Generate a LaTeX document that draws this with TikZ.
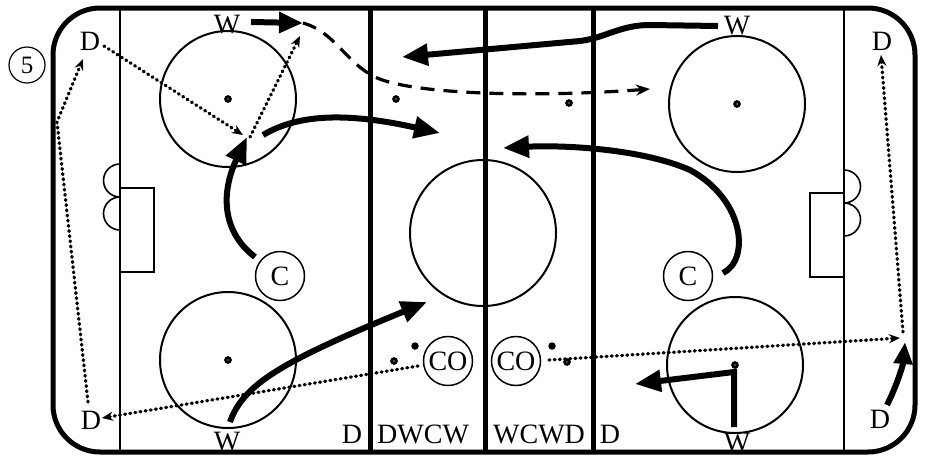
\documentclass[tikz,border=0pt]{standalone}
\usepackage{fontspec}
\setmainfont{Liberation Serif}
\usetikzlibrary{arrows.meta}
\begin{document}
\begin{tikzpicture}[x=1pt,y=-1pt,
  lbl/.style={font=\fontsize{28}{30}\selectfont, inner sep=0pt, anchor=base},
  plr/.style={draw, circle, line width=1.5pt, minimum size=49pt, inner sep=0pt, font=\fontsize{28}{30}\selectfont},
  rink/.style={line width=5pt},
  thinline/.style={line width=1.8pt},
  blueline/.style={line width=5pt},
  fo/.style={line width=2pt},
  ringdot/.style={draw, circle, fill=white, line width=3pt, minimum size=4.5pt, inner sep=0pt},
  fdot/.style={fill, circle, minimum size=7.5pt, inner sep=0pt},
  skate/.style={line width=6pt, -{Triangle[length=26pt,width=21pt]}},
  dotpath/.style={line width=3.3pt, line cap=round, dash pattern=on 0.9pt off 4.3pt, -{Stealth[length=11pt,width=9pt]}},
  dashpath/.style={line width=3.2pt, dash pattern=on 14pt off 9pt, -{Stealth[length=14pt,width=11pt]}}
]
\useasboundingbox (0,0) rectangle (926,459);
% rink
\draw[rink, rounded corners=47pt] (53,8) rectangle (915,452);
\draw[thinline] (120,8) -- (120,452);
\draw[thinline] (844,8) -- (844,452);
\draw[blueline] (370,8) -- (370,452);
\draw[blueline] (485,8) -- (485,452);
\draw[blueline] (593,8) -- (593,452);
% faceoff circles
\draw[fo] (228,99) circle (68);
\draw[fo] (228,360) circle (68);
\draw[fo] (483,233) circle (73);
\draw[fo] (737,104) circle (68);
\draw[fo] (735,365) circle (68);
% goal creases and nets
\draw[line width=1.2pt] (120,188) rectangle (154,272);
\draw[line width=1.6pt] (120,197) arc[start angle=90, end angle=270, radius=16.5];
\draw[line width=1.6pt] (120,230) arc[start angle=90, end angle=270, radius=16.5];
\draw[line width=1.2pt] (810,193) rectangle (844,277);
\draw[line width=1.6pt] (844,203) arc[start angle=90, end angle=-90, radius=16.5];
\draw[line width=1.6pt] (844,236) arc[start angle=90, end angle=-90, radius=16.5];
% dots
\node[ringdot] (d1) at (228,99) {};
\node[ringdot] (d2) at (228,360) {};
\node[ringdot] (d3) at (737,104) {};
\node[ringdot] (d4) at (735,365) {};
\node[ringdot] (d5) at (396,99) {};
\node[ringdot] (d6) at (569,103) {};
\node[ringdot] (d7) at (394,361) {};
\node[ringdot] (d8) at (567,362) {};
\node[fdot] (d9) at (415,346) {};
\node[fdot] (d10) at (552,346) {};
% labels
\node[draw, circle, line width=1.2pt, minimum size=36pt, inner sep=0pt, font=\fontsize{25}{27}\selectfont] (five) at (27,65) {5};
\node[lbl] (Wtl) at (227,33) {W};
\node[lbl] (Dtl) at (90,50) {D};
\node[lbl] (Wtr) at (737,34) {W};
\node[lbl] (Dtr) at (882,50) {D};
\node[lbl] (Dbl) at (91,429) {D};
\node[lbl] (Wbl) at (227,450) {W};
\node[lbl] (Db1) at (352,443) {D};
\node[lbl, anchor=base west] (grp1) at (377,443) {DWCW};
\node[lbl, anchor=base west] (grp2) at (493,443) {WCWD};
\node[lbl] (Db2) at (610,443) {D};
\node[lbl] (Wbr) at (737,451) {W};
\node[lbl] (Dbr) at (880,428) {D};
\node[plr] (Cl) at (280,276) {C};
\node[plr] (Cr) at (688,276) {C};
\node[plr] (COl) at (448,361) {CO};
\node[plr] (COr) at (516,361) {CO};
% coordinates for paths
\coordinate (p1a) at (88,402);
\coordinate (p1b) at (57,122);
\coordinate (p1c) at (83,59);
\coordinate (p2a) at (104,46);
\coordinate (p2b) at (243,135);
\coordinate (p3a) at (250,137);
\coordinate (p3b) at (300,36);
\coordinate (p4a) at (255,257);
\coordinate (p4b) at (247,137);
\coordinate (p5a) at (263,135);
\coordinate (p5b) at (440,133);
\coordinate (p6a) at (251,22);
\coordinate (p6b) at (303,23);
\coordinate (p6c) at (375,77);
\coordinate (p6d) at (650,89);
\coordinate (p7a) at (718,26);
\coordinate (p7b) at (650,25);
\coordinate (p7c) at (580,41);
\coordinate (p7d) at (402,57);
\coordinate (p8a) at (723,273);
\coordinate (p8b) at (690,170);
\coordinate (p8c) at (503,148);
\coordinate (p9a) at (230,422);
\coordinate (p9b) at (427,302);
\coordinate (p10a) at (418,366);
\coordinate (p10b) at (102,418);
\coordinate (p11a) at (549,360);
\coordinate (p11b) at (900,338);
\coordinate (p12a) at (734,427);
\coordinate (p12b) at (734,372);
\coordinate (p12c) at (635,384);
\coordinate (p13a) at (887,405);
\coordinate (p13b) at (905,342);
\coordinate (p14a) at (903,332);
\coordinate (p14b) at (881,55);
% dotted passes / skating
\draw[dotpath] (p1a) -- (p1b) -- (p1c);
\draw[dotpath] (p2a) -- (p2b);
\draw[dotpath] (p3a) -- (p3b);
\draw[dotpath] (p10a) -- (p10b);
\draw[dotpath] (p11a) -- (p11b);
\draw[dotpath] (p14a) -- (p14b);
% thick skating paths
\draw[skate] (p4a) .. controls (220,230) and (222,190) .. (p4b);
\draw[skate] (p5a) .. controls (300,113) and (350,113) .. (p5b);
\draw[skate, -{Triangle[length=24pt,width=20pt]}] (p6a) -- (p6b);
\draw[dashpath] (p6b) .. controls (335,32) and (345,62) .. (p6c) .. controls (410,94) and (530,98) .. (p6d);
\draw[skate] (p7a) -- (p7b) .. controls (620,25) and (605,38) .. (p7c) -- (p7d);
\draw[skate] (p8a) .. controls (750,260) and (745,200) .. (p8b) .. controls (640,148) and (560,145) .. (p8c);
\draw[skate] (p9a) .. controls (243,385) and (280,362) .. (p9b);
\draw[skate] (p12a) -- (p12b) -- (p12c);
\draw[skate, -{Triangle[length=22pt,width=18pt]}] (p13a) .. controls (897,385) and (903,365) .. (p13b);
\end{tikzpicture}
\end{document}
